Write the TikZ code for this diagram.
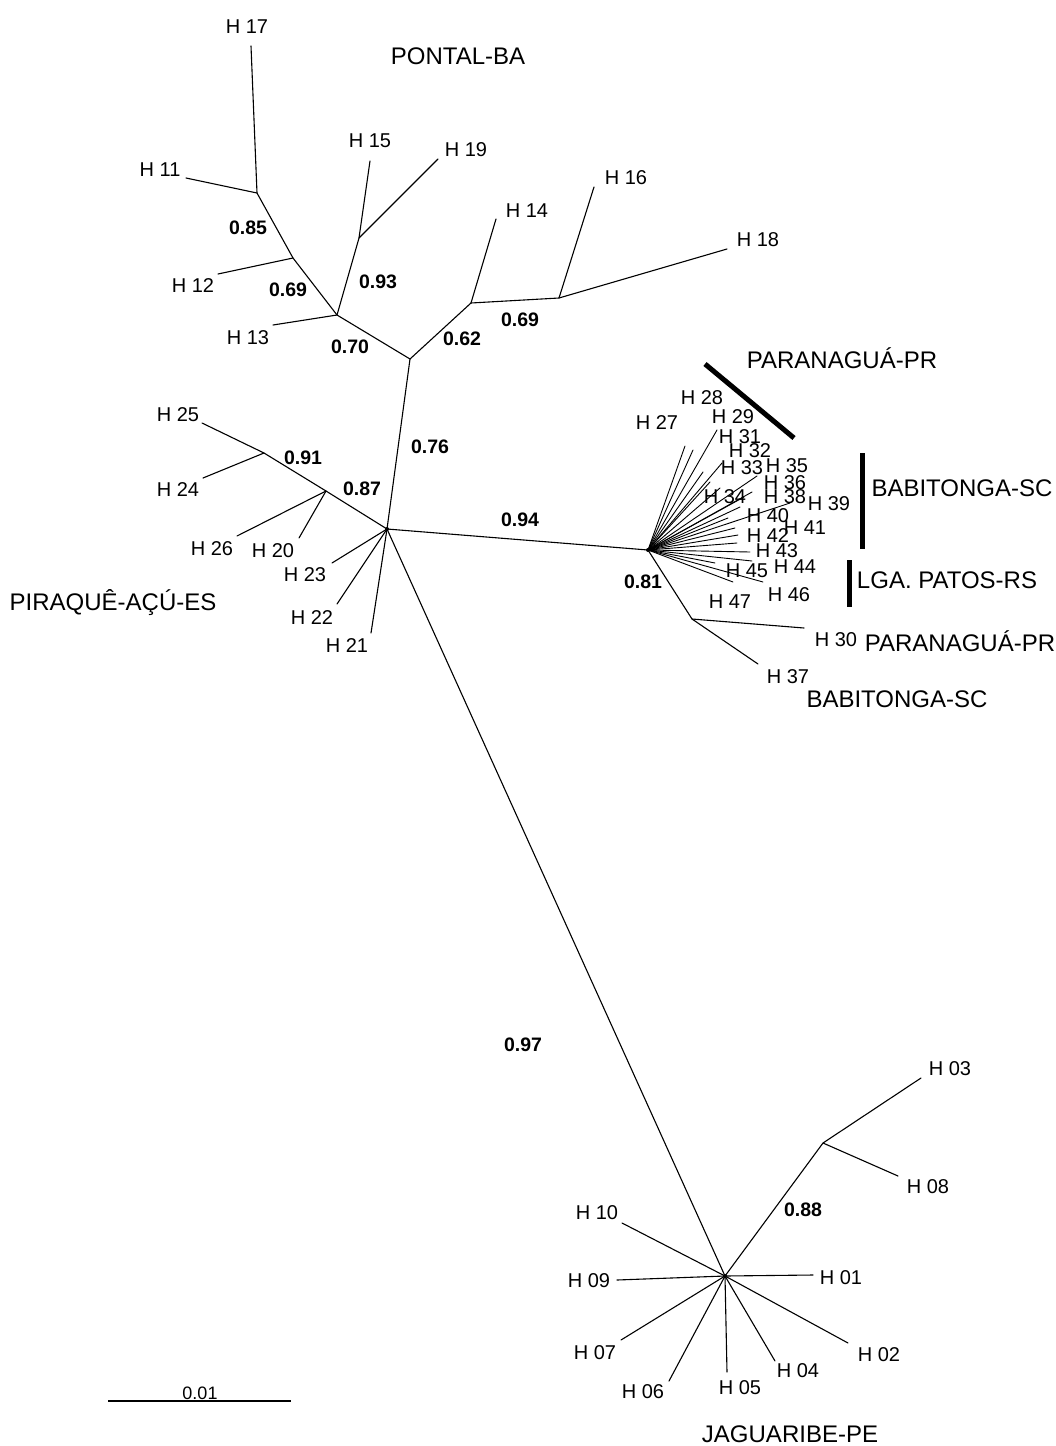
\documentclass[tikz,border=0pt]{standalone}
\usepackage{fontspec}
\setmainfont{Liberation Sans}
\begin{document}
\begin{tikzpicture}[x=1pt,y=-1pt,
 br/.style={line width=1.1pt, line cap=round},
 lab/.style={font=\fontsize{20}{23}\selectfont, inner sep=0pt},
 bs/.style={font=\fontsize{19.5}{23}\selectfont\bfseries, inner sep=0pt},
 reg/.style={font=\fontsize{24}{28}\selectfont, inner sep=0pt},
 grpbar/.style={line width=5pt},
 hub/.style={circle, fill=black, inner sep=0pt, minimum size=4pt}]
\useasboundingbox (0,0) rectangle (1056,1446);

% ---------- Pontal-BA ----------
\coordinate (A) at (257,193);
\coordinate (B) at (293,258);
\coordinate (C) at (337,315);
\coordinate (D) at (359,238);
\coordinate (E) at (410,359);
\coordinate (F) at (471,303);
\coordinate (G) at (559,298);
\coordinate (l17) at (251,46);
\coordinate (l11) at (186,178);
\coordinate (l12) at (218,274);
\coordinate (l13) at (273,325);
\coordinate (l15) at (370,161);
\coordinate (l19) at (438,159);
\coordinate (l14) at (496,219);
\coordinate (l16) at (594,187);
\coordinate (l18) at (727,249);

\draw[br] (l17) -- (A) -- (B) -- (C) -- (E) -- (F) -- (G) -- (l18);
\draw[br] (l11) -- (A);
\draw[br] (l12) -- (B);
\draw[br] (l13) -- (C);
\draw[br] (C) -- (D) -- (l15);
\draw[br] (D) -- (l19);
\draw[br] (F) -- (l14);
\draw[br] (G) -- (l16);

\node[lab] (t17) at (247,27) {H 17};
\node[lab] (t11) at (160,170) {H 11};
\node[lab] (t12) at (193,286) {H 12};
\node[lab] (t13) at (248,338) {H 13};
\node[lab] (t15) at (370,141) {H 15};
\node[lab] (t19) at (466,150) {H 19};
\node[lab] (t14) at (527,211) {H 14};
\node[lab] (t16) at (626,178) {H 16};
\node[lab] (t18) at (758,240) {H 18};
\node[bs] (b85) at (248,228) {0.85};
\node[bs] (b69a) at (288,290) {0.69};
\node[bs] (b70) at (350,347) {0.70};
\node[bs] (b93) at (378,282) {0.93};
\node[bs] (b62) at (462,339) {0.62};
\node[bs] (b69b) at (520,320) {0.69};
\node[reg] (pontal) at (458,56) {PONTAL-BA};

% ---------- Piraque-Acu-ES ----------
\node[hub] (P) at (387,529) {};
\coordinate (Q) at (326,491);
\coordinate (R) at (264,453);
\coordinate (l25) at (202,423);
\coordinate (l24) at (203,478);
\coordinate (l26) at (237,536);
\coordinate (l20) at (299,538);
\coordinate (l23) at (332,563);
\coordinate (l22) at (337,604);
\coordinate (l21) at (371,633);

\draw[br] (E) -- (P.center);
\draw[br] (P.center) -- (Q) -- (R) -- (l25);
\draw[br] (R) -- (l24);
\draw[br] (Q) -- (l26);
\draw[br] (Q) -- (l20);
\draw[br] (P.center) -- (l23);
\draw[br] (P.center) -- (l22);
\draw[br] (P.center) -- (l21);

\node[lab] (t25) at (178,415) {H 25};
\node[lab] (t24) at (178,490) {H 24};
\node[lab] (t26) at (212,549) {H 26};
\node[lab] (t20) at (273,551) {H 20};
\node[lab] (t23) at (305,575) {H 23};
\node[lab] (t22) at (312,618) {H 22};
\node[lab] (t21) at (347,646) {H 21};
\node[bs] (b91) at (303,458) {0.91};
\node[bs] (b87) at (362,489) {0.87};
\node[bs] (b76) at (430,447) {0.76};
\node[reg] (piraque) at (113,603) {PIRAQUÊ-AÇÚ-ES};

% ---------- southern fan ----------
\node[hub] (fan) at (648,550) {};
\draw[br] (P.center) -- (fan.center);
\node[bs] (b94) at (520,520) {0.94};
\node[bs] (b81) at (643,582) {0.81};

\foreach \p [count=\i] in {(685,446),(693,450),(717,430),(703,472),(722,463),
  (720,488),(757,476),(752,492),(744,497),(790,503),(740,507),(735,528),
  (738,535),(737,543),(750,552),(752,561),(715,563),(733,582),(763,582),
  (710,482),(728,518)}
  \draw[line width=0.9pt, line cap=round] (fan.center) -- \p coordinate (f\i);

\coordinate (S) at (692,619);
\coordinate (l30) at (804,628);
\coordinate (l37) at (758,664);
\draw[br] (fan.center) -- (S) -- (l30);
\draw[br] (S) -- (l37);

\node[lab] (t27) at (657,423) {H 27};
\node[lab] (t28) at (702,398) {H 28};
\node[lab] (t29) at (733,417) {H 29};
\node[lab] (t31) at (740,437) {H 31};
\node[lab] (t32) at (750,451) {H 32};
\node[lab] (t33) at (742,468) {H 33};
\node[lab] (t35) at (787,466) {H 35};
\node[lab] (t36) at (785,483) {H 36};
\node[lab] (t34) at (725,497) {H 34};
\node[lab] (t38) at (785,497) {H 38};
\node[lab] (t39) at (829,504) {H 39};
\node[lab] (t40) at (768,516) {H 40};
\node[lab] (t41) at (805,528) {H 41};
\node[lab] (t42) at (768,536) {H 42};
\node[lab] (t43) at (777,551) {H 43};
\node[lab] (t44) at (795,567) {H 44};
\node[lab] (t45) at (747,571) {H 45};
\node[lab] (t46) at (789,595) {H 46};
\node[lab] (t47) at (730,602) {H 47};
\node[lab] (t30) at (836,640) {H 30};
\node[lab] (t37) at (788,677) {H 37};

\coordinate (pb1) at (705,364);
\coordinate (pb2) at (794,438);
\draw[grpbar] (pb1) -- (pb2);
\coordinate (bb1) at (862,453);
\coordinate (bb2) at (862,549);
\draw[grpbar] (bb1) -- (bb2);
\coordinate (lb1) at (849,560);
\coordinate (lb2) at (849,607);
\draw[grpbar] (lb1) -- (lb2);

\node[reg] (parana1) at (842,358) {PARANAGUÁ-PR};
\node[reg] (babit1) at (962,488) {BABITONGA-SC};
\node[reg] (lga) at (947,580) {LGA. PATOS-RS};
\node[reg] (parana2) at (960,641) {PARANAGUÁ-PR};
\node[reg] (babit2) at (897,699) {BABITONGA-SC};

% ---------- Jaguaribe-PE ----------
\node[hub] (J) at (725,1276) {};
\coordinate (K) at (823,1143);
\coordinate (l03) at (921,1078);
\coordinate (l08) at (898,1176);
\coordinate (l10) at (622,1223);
\coordinate (l09) at (617,1280);
\coordinate (l01) at (813,1275);
\coordinate (l07) at (621,1340);
\coordinate (l06) at (669,1381);
\coordinate (l05) at (727,1372);
\coordinate (l04) at (775,1361);
\coordinate (l02) at (848,1343);

\draw[br] (P.center) -- (J.center);
\draw[br] (J.center) -- (K) -- (l03);
\draw[br] (K) -- (l08);
\foreach \l in {l10,l09,l01,l07,l06,l05,l04,l02}
  \draw[br] (J.center) -- (\l);

\node[bs] (b97) at (523,1045) {0.97};
\node[bs] (b88) at (803,1210) {0.88};
\node[lab] (t03) at (950,1069) {H 03};
\node[lab] (t08) at (928,1187) {H 08};
\node[lab] (t10) at (597,1213) {H 10};
\node[lab] (t09) at (589,1281) {H 09};
\node[lab] (t01) at (841,1278) {H 01};
\node[lab] (t07) at (595,1353) {H 07};
\node[lab] (t06) at (643,1392) {H 06};
\node[lab] (t05) at (740,1388) {H 05};
\node[lab] (t04) at (798,1371) {H 04};
\node[lab] (t02) at (879,1355) {H 02};
\node[reg] (jag) at (790,1434) {JAGUARIBE-PE};

% ---------- scale bar ----------
\coordinate (s1) at (108,1401);
\coordinate (s2) at (291,1401);
\draw[line width=1.4pt] (s1) -- (s2);
\node[lab, font=\fontsize{18}{21}\selectfont] (scl) at (200,1393) {0.01};
\end{tikzpicture}
\end{document}
